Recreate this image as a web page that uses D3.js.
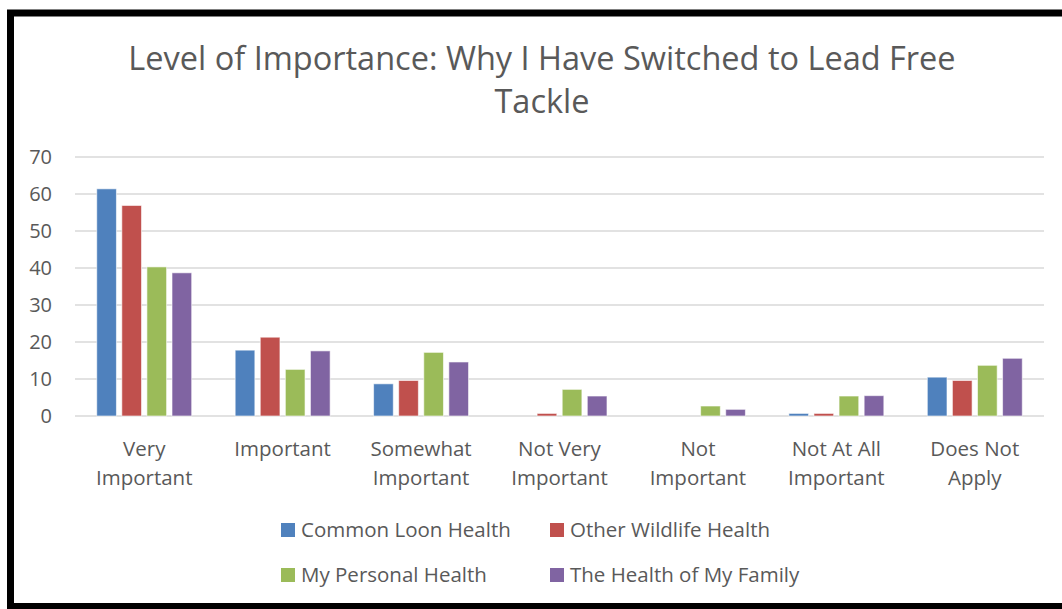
<!DOCTYPE html>
<html>
<head>
<meta charset="utf-8">
<script src="https://cdn.jsdelivr.net/npm/d3@7/dist/d3.min.js"></script>
<style>
  html, body { margin: 0; padding: 0; background: #fff; }
  svg { display: block; }
  text { font-family: "Open Sans", "Liberation Sans", sans-serif; fill: #595959; }
</style>
</head>
<body>
<svg id="chart" width="1062" height="609"></svg>
<script>
// Survey responses (%) by level of importance
const categories = [
  ["Very", "Important"],
  ["Important"],
  ["Somewhat", "Important"],
  ["Not Very", "Important"],
  ["Not", "Important"],
  ["Not At All", "Important"],
  ["Does Not", "Apply"]
];
const seriesNames = ["Common Loon Health", "Other Wildlife Health", "My Personal Health", "The Health of My Family"];
const commonLoon   = [61.4, 17.8, 8.7, 0, 0, 0.7, 10.5];
const otherWildlife = [56.9, 21.3, 9.6, 0.7, 0, 0.7, 9.6];
const personal     = [40.3, 12.6, 17.2, 7.2, 2.7, 5.4, 13.7];
const family       = [38.7, 17.6, 14.6, 5.4, 1.8, 5.5, 15.6];
const yTicks = [0, 10, 20, 30, 40, 50, 60, 70];
const colors = ["#4F81BD", "#C0504D", "#9BBB59", "#8064A2"];

const series = [commonLoon, otherWildlife, personal, family];
const svg = d3.select("#chart");

// outer frame
svg.append("rect")
  .attr("x", 10.5).attr("y", 13).attr("width", 1080).attr("height", 593.5)
  .attr("fill", "none").attr("stroke", "#000").attr("stroke-width", 7);

// title
const title = svg.append("text")
  .attr("text-anchor", "middle")
  .style("font-size", "32.5px");
title.append("tspan").attr("x", 542).attr("y", 70).text("Level of Importance: Why I Have Switched to Lead Free");
title.append("tspan").attr("x", 542).attr("y", 113).text("Tackle");

const plot = { left: 75, right: 1044, top: 157, bottom: 416 };

const y = d3.scaleLinear().domain([0, 70]).range([plot.bottom, plot.top]);
const x0 = d3.scaleBand()
  .domain(d3.range(categories.length))
  .range([plot.left, plot.right])
  .paddingInner(0.314).paddingOuter(0.157);
const x1 = d3.scaleBand()
  .domain(d3.range(series.length))
  .range([0, x0.bandwidth()])
  .paddingInner(0.215);

// gridlines
svg.append("g")
  .selectAll("line").data(yTicks).join("line")
  .attr("x1", plot.left).attr("x2", plot.right)
  .attr("y1", d => y(d)).attr("y2", d => y(d))
  .attr("stroke", "#d9d9d9").attr("stroke-width", 1.5);

// y axis labels
const yAxis = d3.axisLeft(y).tickValues(yTicks).tickSize(0).tickPadding(0);
const gy = svg.append("g").attr("transform", `translate(52,0)`).call(yAxis);
gy.select(".domain").remove();
gy.selectAll("text").style("font-size", "20px").attr("fill", "#595959")
  .style("font-family", '"Open Sans", "Liberation Sans", sans-serif');

// bars
const groups = svg.append("g").selectAll("g")
  .data(categories.map((c, i) => i)).join("g")
  .attr("transform", i => `translate(${x0(i)},0)`);
groups.selectAll("rect")
  .data(i => series.map((s, k) => ({ k, v: s[i] })))
  .join("rect")
  .attr("x", d => x1(d.k))
  .attr("width", x1.bandwidth())
  .attr("y", d => y(d.v))
  .attr("height", d => plot.bottom - y(d.v))
  .attr("fill", d => colors[d.k])
  .attr("stroke", "#ffffff").attr("stroke-opacity", 0.6).attr("stroke-width", 1)
  .style("display", d => d.v > 0 ? null : "none");

// category labels
const catLabels = svg.append("g").selectAll("text")
  .data(categories).join("text")
  .attr("text-anchor", "middle")
  .style("font-size", "20.5px");
catLabels.each(function(lines, i) {
  const t = d3.select(this);
  const cx = x0(i) + x0.bandwidth() / 2;
  lines.forEach((ln, j) => {
    t.append("tspan").attr("x", cx).attr("y", 456 + j * 29).text(ln);
  });
});

// legend
const legendPos = [
  { x: 281, y: 523 }, { x: 550, y: 523 },
  { x: 281, y: 568 }, { x: 550, y: 568 }
];
const legend = svg.append("g").selectAll("g")
  .data(seriesNames).join("g")
  .attr("transform", (d, i) => `translate(${legendPos[i].x},${legendPos[i].y})`);
legend.append("rect").attr("width", 14).attr("height", 14)
  .attr("fill", (d, i) => colors[i]);
legend.append("text").attr("x", 20).attr("y", 14)
  .style("font-size", "20.5px").text(d => d);
</script>
</body>
</html>
